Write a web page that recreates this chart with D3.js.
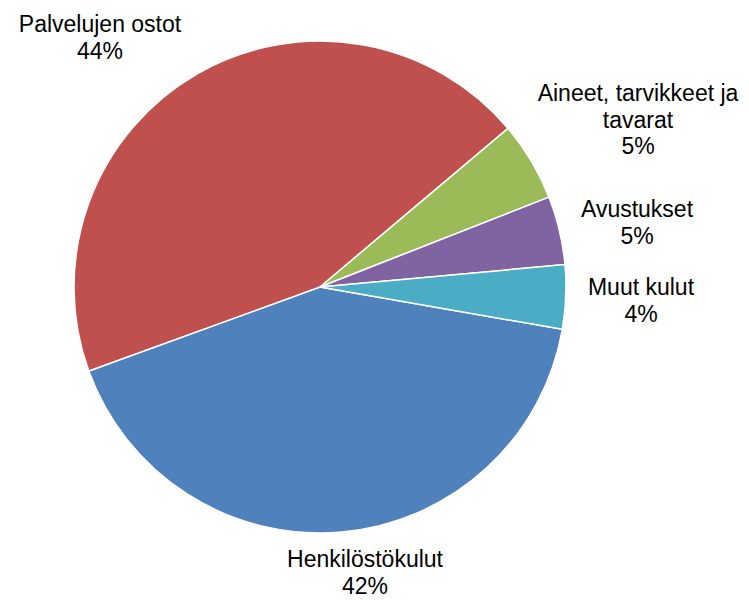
<!DOCTYPE html>
<html>
<head>
<meta charset="utf-8">
<script src="https://cdn.jsdelivr.net/npm/d3@7"></script>
<style>
  body { margin: 0; background: #fff; }
  .lbl { font-family: "Liberation Sans", Arial, sans-serif; font-size: 23px; fill: #000; }
</style>
</head>
<body>
<div id="chart"></div>
<script>
var svgWidth = 749;
var svgHeight = 600;

// data
var categories = ["Henkilöstökulut", "Palvelujen ostot", "Aineet, tarvikkeet ja tavarat", "Avustukset", "Muut kulut"];
var values = [41.7, 44.4, 5.2, 4.5, 4.2];
var colors = ["#4F81BD", "#C0504D", "#9BBB59", "#8064A2", "#4BACC6"];

// label layout: text lines + center of first baseline
var labelLines = [["Henkilöstökulut"], ["Palvelujen ostot"], ["Aineet, tarvikkeet ja", "tavarat"], ["Avustukset"], ["Muut kulut"]];
var labelAt = [[365, 567], [100, 32], [638, 101], [637, 217], [641, 295]];

var cx = 320, cy = 287, radius = 246;
var lineH = 26.5;

var svg = d3.select("#chart")
    .append("svg")
    .attr("width", svgWidth)
    .attr("height", svgHeight);

var chartGroup = svg.append("g")
    .attr("transform", `translate(${cx}, ${cy})`);

var startDeg = 99.9;
var pie = d3.pie()
    .sort(null)
    .value(d => d)
    .startAngle(startDeg * Math.PI / 180)
    .endAngle(startDeg * Math.PI / 180 + 2 * Math.PI);

var arc = d3.arc().innerRadius(0).outerRadius(radius);

var total = d3.sum(values);

chartGroup.selectAll("path")
    .data(pie(values))
    .enter()
    .append("path")
    .attr("d", arc)
    .attr("fill", (d, i) => colors[i])
    .attr("stroke", "#fff")
    .attr("stroke-width", 1.5)
    .attr("stroke-linejoin", "round");

//Labels
var labels = svg.append("g").selectAll("text")
    .data(categories)
    .enter()
    .append("text")
    .attr("class", "lbl")
    .attr("text-anchor", "middle")
    .attr("x", (d, i) => labelAt[i][0])
    .attr("y", (d, i) => labelAt[i][1]);

labels.each(function(d, i) {
    var t = d3.select(this);
    var lines = labelLines[i].concat([Math.round(values[i] / total * 100) + "%"]);
    lines.forEach(function(line, j) {
        t.append("tspan")
            .attr("x", labelAt[i][0])
            .attr("y", labelAt[i][1] + j * lineH)
            .text(line);
    });
});
</script>
</body>
</html>
